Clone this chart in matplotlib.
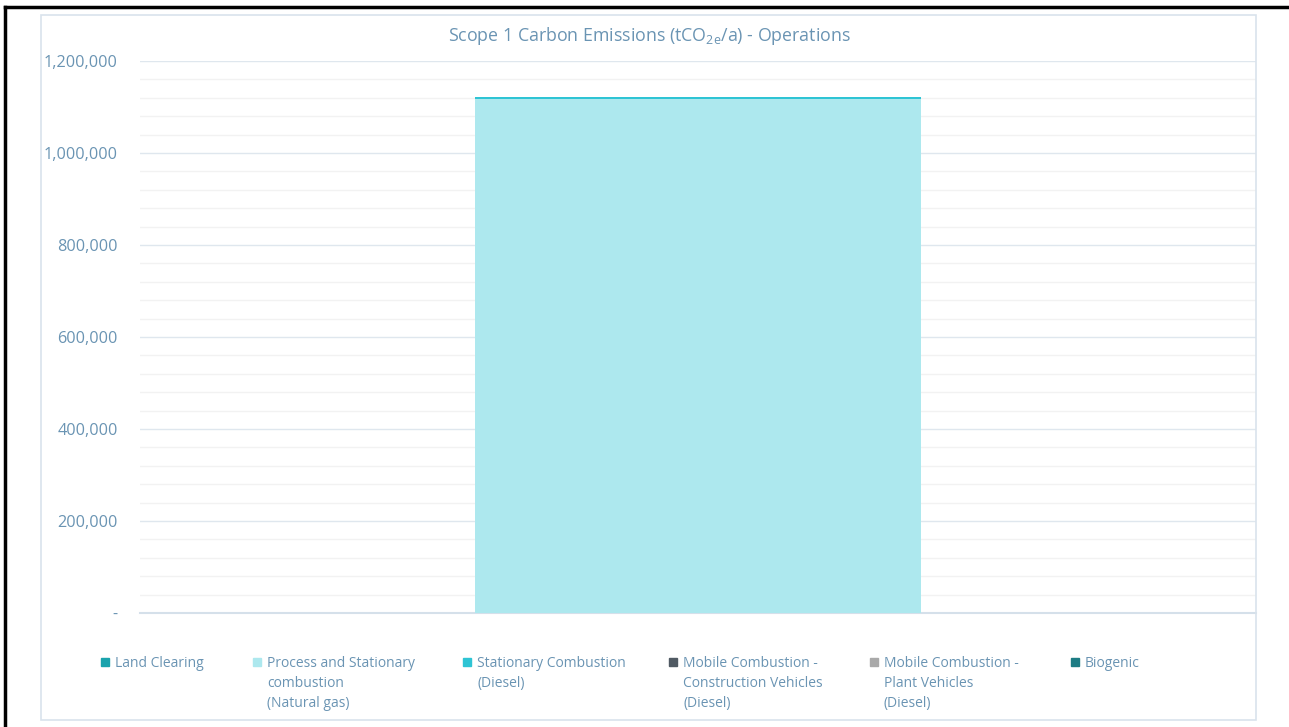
import matplotlib
matplotlib.use("Agg")
import matplotlib.pyplot as plt
from matplotlib.patches import Rectangle
from matplotlib.lines import Line2D
from matplotlib.ticker import FuncFormatter, MultipleLocator

plt.rcParams["font.family"] = ["Open Sans", "DejaVu Sans"]
plt.rcParams["mathtext.fontset"] = "custom"
plt.rcParams["mathtext.rm"] = "Open Sans"
plt.rcParams["mathtext.default"] = "regular"

# data
category = ["Operations"]
series_names = [
    "Land Clearing",
    "Process and Stationary\ncombustion\n(Natural gas)",
    "Stationary Combustion\n(Diesel)",
    "Mobile Combustion -\nConstruction Vehicles\n(Diesel)",
    "Mobile Combustion -\nPlant Vehicles\n(Diesel)",
    "Biogenic",
]
series_values = [0, 1118000, 4000, 0, 0, 0]
series_colors = ["#1aa3ad", "#ade8ee", "#2ec4d4", "#505a63", "#a9a9a9", "#1d7c84"]

TEXT = "#6a94b3"
W, H = 1289, 727

fig = plt.figure(figsize=(W / 100, H / 100), dpi=100)
ax = fig.add_axes([140 / W, 1 - 613 / H, (1256 - 140) / W, (613 - 61) / H])

bottom = 0
for name, val, col in zip(series_names, series_values, series_colors):
    if val > 0:
        ax.bar(category, val, width=0.4, bottom=bottom, color=col,
               edgecolor="none", zorder=3)
    bottom += val

ax.set_xlim(-0.5, 0.5)
ax.set_ylim(0, 1200000)
ax.yaxis.set_major_locator(MultipleLocator(200000))
ax.yaxis.set_minor_locator(MultipleLocator(40000))
ax.yaxis.set_major_formatter(
    FuncFormatter(lambda v, p: "-" if v == 0 else f"{int(v):,}")
)
ax.grid(axis="y", which="major", color="#dfe7ee", lw=1.0, zorder=0)
ax.grid(axis="y", which="minor", color="#f2f2f2", lw=1.0, zorder=0)
ax.tick_params(axis="y", which="both", length=0, pad=16, labelsize=11.7, labelcolor=TEXT)
ax.tick_params(axis="x", length=0, labelbottom=False)
for s in ["top", "right", "left"]:
    ax.spines[s].set_visible(False)
ax.spines["bottom"].set_color("#d5e0ea")
ax.spines["bottom"].set_linewidth(1.5)

fig.text(649 / W, 1 - 36 / H,
         "Scope 1 Carbon Emissions (tCO$_{2e}$/a) - Operations",
         ha="center", va="center", fontsize=12.8, color=TEXT)

# legend drawn by hand to keep the wrapped labels top aligned
leg_x = [105, 257, 467, 673, 874, 1075]
for x, name, col in zip(leg_x, series_names, series_colors):
    fig.add_artist(Rectangle(((x - 4) / W, 1 - 666 / H), 8 / W, 8 / H,
                             transform=fig.transFigure, color=col))
    fig.text((x + 10) / W, 1 - 656 / H, name, ha="left", va="top",
             fontsize=10, color=TEXT, linespacing=1.45)

# chart frame and outer border
fig.add_artist(Rectangle((41 / W, 1 - 720 / H), (1256 - 41) / W, (720 - 15) / H,
                         transform=fig.transFigure, fill=False,
                         edgecolor="#d9e3ec", lw=1.2))
fig.add_artist(Line2D([5 / W, 1], [1 - 7 / H, 1 - 7 / H],
                      transform=fig.transFigure, color="black", lw=2.5))
fig.add_artist(Line2D([5 / W, 5 / W], [0, 1 - 7 / H],
                      transform=fig.transFigure, color="black", lw=2.5))

fig.savefig("out.png", dpi=100)
